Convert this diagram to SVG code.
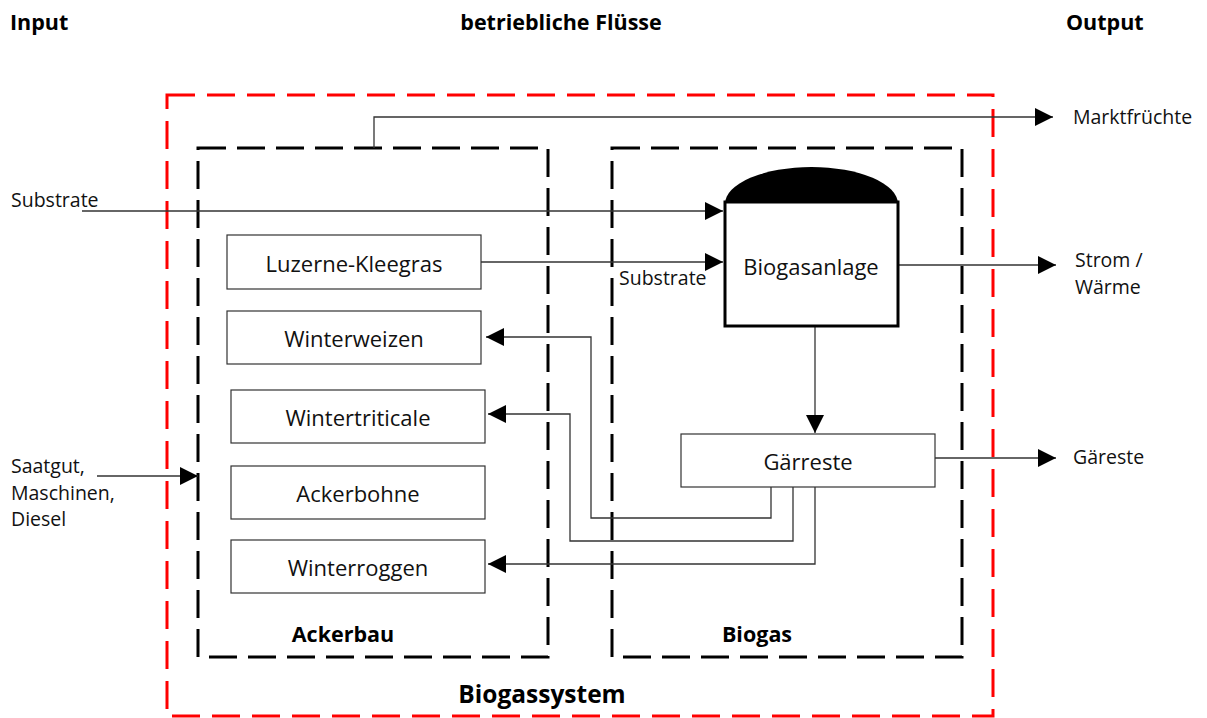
<svg xmlns="http://www.w3.org/2000/svg" width="1207" height="718" viewBox="0 0 1207 718">
  <style>
    .hd { font-family: "Open Sans", "Liberation Sans", sans-serif; font-weight: bold; font-size: 21.5px; fill: #000; }
    .title { font-size: 24.5px; }
    .lbl { font-family: "Open Sans", "Liberation Sans", sans-serif; font-size: 19.5px; fill: #111; }
    .box { fill: #fff; stroke: #333; stroke-width: 1.2; }
    .btxt { font-family: "Open Sans", "Liberation Sans", sans-serif; font-size: 22px; fill: #111; text-anchor: middle; dominant-baseline: central; }
    .sys { fill: none; stroke: #000; stroke-width: 3; stroke-dasharray: 28 11; }
    .outer { fill: none; stroke: #f00; stroke-width: 3; stroke-dasharray: 28 12; }
    .ln { fill: none; stroke: #333; stroke-width: 1.3; }
  </style>
  <defs>
    <marker id="arr" viewBox="0 0 10 10" refX="10" refY="5" markerWidth="18" markerHeight="18" markerUnits="userSpaceOnUse" orient="auto">
      <path d="M0,0 L10,5 L0,10 Z" fill="#000"/>
    </marker>
  </defs>
  <rect width="1207" height="718" fill="#fff"/>

  <!-- column headings -->
  <text class="hd" x="10" y="30">Input</text>
  <text class="hd" x="561" y="30" text-anchor="middle">betriebliche Flüsse</text>
  <text class="hd" x="1066" y="30">Output</text>

  <!-- system boundaries -->
  <g id="biogassystem">
    <rect class="outer" x="167" y="95" width="826" height="621"/>
    <text class="hd title" x="542" y="703" text-anchor="middle">Biogassystem</text>
  </g>
  <g id="ackerbau">
    <rect class="sys" x="198" y="148" width="350" height="509"/>
    <text class="hd" x="343" y="642" text-anchor="middle">Ackerbau</text>
  </g>
  <g id="biogas">
    <rect class="sys" x="612" y="148" width="350" height="509"/>
    <text class="hd" x="757" y="642" text-anchor="middle">Biogas</text>
  </g>

  <!-- connectors -->
  <g id="connectors">
    <polyline class="ln" points="374,148 374,117 1053,117" marker-end="url(#arr)"/>
    <line class="ln" x1="82" y1="211" x2="723" y2="211" marker-end="url(#arr)"/>
    <line class="ln" x1="481" y1="262" x2="723" y2="262" marker-end="url(#arr)"/>
    <line class="ln" x1="898" y1="265" x2="1056" y2="265" marker-end="url(#arr)"/>
    <line class="ln" x1="815" y1="327" x2="815" y2="433" marker-end="url(#arr)"/>
    <line class="ln" x1="935" y1="458" x2="1056" y2="458" marker-end="url(#arr)"/>
    <polyline class="ln" points="771,487 771,518 591,518 591,337 486,337" marker-end="url(#arr)"/>
    <polyline class="ln" points="793,487 793,541 570,541 570,414 488,414" marker-end="url(#arr)"/>
    <polyline class="ln" points="815,487 815,564 488,564" marker-end="url(#arr)"/>
    <line class="ln" x1="97" y1="476" x2="198" y2="476" marker-end="url(#arr)"/>
    <text class="lbl" x="619" y="285">Substrate</text>
  </g>

  <!-- crops -->
  <g id="luzerne-kleegras">
    <rect class="box" x="227" y="235" width="254" height="54"/>
    <text class="btxt" x="354" y="263">Luzerne-Kleegras</text>
  </g>
  <g id="winterweizen">
    <rect class="box" x="227" y="311" width="254" height="53"/>
    <text class="btxt" x="354" y="338">Winterweizen</text>
  </g>
  <g id="wintertriticale">
    <rect class="box" x="231" y="390" width="254" height="53"/>
    <text class="btxt" x="358" y="417">Wintertriticale</text>
  </g>
  <g id="ackerbohne">
    <rect class="box" x="231" y="466" width="254" height="53"/>
    <text class="btxt" x="358" y="493">Ackerbohne</text>
  </g>
  <g id="winterroggen">
    <rect class="box" x="231" y="540" width="254" height="53"/>
    <text class="btxt" x="358" y="567">Winterroggen</text>
  </g>

  <!-- digester -->
  <g id="biogasanlage">
    <path d="M725,204 A86.5,37 0 0 1 898,204 Z" fill="#000"/>
    <rect x="725" y="202" width="173" height="124" fill="#fff" stroke="#000" stroke-width="3"/>
    <text class="btxt" x="811" y="266">Biogasanlage</text>
  </g>
  <g id="gaerreste">
    <rect class="box" x="681" y="434" width="254" height="53"/>
    <text class="btxt" x="808" y="461">Gärreste</text>
  </g>

  <!-- input / output labels -->
  <g id="in-substrate"><text class="lbl" x="11" y="207">Substrate</text></g>
  <g id="in-saatgut">
    <text class="lbl" x="11" y="473">Saatgut,</text>
    <text class="lbl" x="11" y="500">Maschinen,</text>
    <text class="lbl" x="11" y="526">Diesel</text>
  </g>
  <g id="out-markt"><text class="lbl" x="1073" y="124">Marktfrüchte</text></g>
  <g id="out-strom">
    <text class="lbl" x="1075" y="267">Strom /</text>
    <text class="lbl" x="1075" y="294">Wärme</text>
  </g>
  <g id="out-gaereste"><text class="lbl" x="1073" y="464">Gäreste</text></g>
</svg>
